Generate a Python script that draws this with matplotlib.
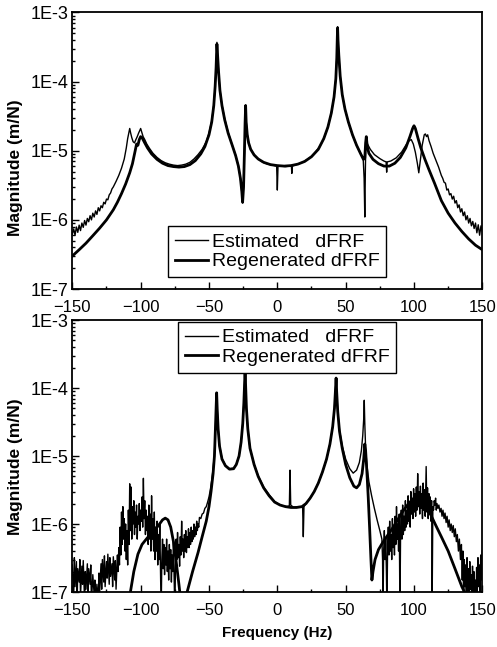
import matplotlib
matplotlib.use('Agg')
import matplotlib.pyplot as plt
from matplotlib.ticker import FixedLocator, MultipleLocator, FuncFormatter, NullFormatter, LogLocator
import numpy as np

plt.rcParams.update({
    'font.family': ['Liberation Sans', 'DejaVu Sans'],
    'font.size': 12,
})

# (frequency Hz, magnitude m/N)
# upper panel
est_top = [
    (-150, 6.2e-7), (-149, 7.4e-7), (-148, 6.0e-7), (-147, 7.9e-7), (-146, 6.6e-7),
    (-145, 8.4e-7), (-144, 7.0e-7), (-143, 9.0e-7), (-142, 7.8e-7), (-141, 9.8e-7),
    (-140, 8.4e-7), (-139, 1.05e-6), (-138, 9.4e-7), (-137, 1.15e-6), (-136, 1.0e-6),
    (-135, 1.25e-6), (-134, 1.1e-6), (-133, 1.35e-6), (-132, 1.2e-6), (-131, 1.5e-6),
    (-130, 1.35e-6), (-129, 1.6e-6), (-128, 1.5e-6), (-127, 1.8e-6), (-126, 1.7e-6),
    (-125, 2.0e-6), (-124, 1.95e-6), (-123, 2.3e-6), (-122, 2.45e-6), (-121, 2.8e-6),
    (-120, 3.0e-6), (-118, 3.6e-6), (-116, 4.4e-6), (-114, 5.6e-6), (-112, 7.6e-6),
    (-110.5, 1.1e-5), (-109.5, 1.5e-5), (-108.5, 1.9e-5), (-108, 2.1e-5), (-107.3, 1.8e-5),
    (-106.5, 1.55e-5), (-105.5, 1.35e-5), (-104.5, 1.3e-5), (-103.5, 1.45e-5), (-102.5, 1.6e-5),
    (-101.5, 1.8e-5), (-100.5, 2.0e-5), (-100, 2.1e-5), (-99.2, 1.85e-5), (-98.2, 1.6e-5),
    (-97, 1.45e-5), (-95.5, 1.25e-5), (-93.5, 1.08e-5), (-91, 9.2e-6), (-88, 8.0e-6),
    (-85, 7.2e-6), (-82, 6.7e-6), (-79, 6.4e-6), (-76, 6.2e-6), (-73, 6.1e-6),
    (-70, 6.2e-6), (-67, 6.4e-6), (-64, 6.8e-6), (-61, 7.6e-6), (-58, 8.8e-6),
    (-55, 1.05e-5), (-52, 1.35e-5), (-50, 1.8e-5), (-48, 2.7e-5), (-46.5, 4.6e-5),
    (-45.5, 8.5e-5), (-44.8, 1.6e-4), (-44.2, 3.7e-4), (-43.7, 2.4e-4), (-43, 1.4e-4),
    (-42, 7.6e-5), (-40.5, 4.6e-5), (-38.5, 2.9e-5), (-36, 1.85e-5), (-33, 1.2e-5),
    (-30.5, 8.6e-6), (-28.5, 6e-6), (-27, 4e-6), (-26, 2.5e-6), (-25.4, 1.75e-6),
    (-24.7, 3e-6), (-24.1, 9e-6), (-23.6, 2.4e-5), (-23.2, 4.6e-5), (-22.8, 2.7e-5),
    (-22, 1.75e-5), (-21, 1.3e-5), (-19.5, 1.05e-5), (-17, 8.8e-6), (-14, 7.6e-6),
    (-11, 6.9e-6), (-8, 6.5e-6), (-5, 6.3e-6), (-2, 6.1e-6), (-0.5, 6.0e-6),
    (0, 2.7e-6), (0.5, 6.0e-6), (3, 6.0e-6), (6, 5.9e-6), (9, 6.0e-6),
    (10.3, 6.0e-6), (10.6, 4.7e-6), (10.9, 6.0e-6), (13, 6.2e-6), (16, 6.5e-6),
    (19, 6.9e-6), (22, 7.5e-6), (25, 8.3e-6), (28, 9.6e-6), (31, 1.15e-5),
    (34, 1.5e-5), (37, 2.2e-5), (39.5, 3.5e-5), (41.5, 6e-5), (42.8, 1.1e-4),
    (43.5, 2.2e-4), (43.9, 4.5e-4), (44.1, 6.2e-4), (44.4, 4.0e-4), (45, 2.4e-4),
    (46, 1.2e-4), (47.5, 6.5e-5), (49.5, 4e-5), (52, 2.6e-5), (55, 1.7e-5),
    (58, 1.2e-5), (61, 9.2e-6), (62.8, 7.8e-6), (63.5, 4e-6), (64, 1.1e-6),
    (64.4, 5e-6), (64.8, 1.5e-5), (65.3, 1.4e-5), (66, 1.25e-5), (68, 1.05e-5),
    (71, 8.8e-6), (75, 7.7e-6), (78, 7.1e-6), (79.6, 6.9e-6), (80, 4.9e-6),
    (80.4, 6.9e-6), (83, 7.1e-6), (87, 7.9e-6), (91, 9.6e-6), (94, 1.2e-5),
    (96.5, 1.4e-5), (98, 1.45e-5), (99.5, 1.25e-5), (101, 9.5e-6), (102.5, 6.5e-6),
    (103.5, 4.8e-6), (104.5, 7e-6), (106, 1.2e-5), (107.5, 1.7e-5), (108.3, 1.75e-5),
    (109.2, 1.6e-5), (110, 1.7e-5), (111, 1.4e-5), (112.5, 1.15e-5), (114, 9.2e-6),
    (116, 7.3e-6), (118, 5.8e-6), (120, 4.4e-6), (121, 4.0e-6), (122, 3.5e-6),
    (123, 3.4e-6), (124, 2.7e-6), (125, 2.8e-6), (126, 2.3e-6), (127, 2.4e-6),
    (128, 2.0e-6), (129, 2.2e-6), (130, 1.75e-6), (131, 1.9e-6), (132, 1.5e-6),
    (133, 1.65e-6), (134, 1.3e-6), (135, 1.45e-6), (136, 1.15e-6), (137, 1.3e-6),
    (138, 1.0e-6), (139, 1.15e-6), (140, 9.0e-7), (141, 1.05e-6), (142, 8.2e-7),
    (143, 9.5e-7), (144, 7.5e-7), (145, 9.0e-7), (146, 6.5e-7), (147, 8.5e-7),
    (148, 6.0e-7), (149, 8.2e-7), (150, 6.8e-7),
]

regen_top = [
    (-150, 3.0e-7), (-145, 3.7e-7), (-140, 4.6e-7), (-135, 5.9e-7), (-130, 7.6e-7),
    (-125, 1.0e-6), (-120, 1.4e-6), (-117, 1.8e-6), (-114, 2.4e-6), (-111, 3.3e-6),
    (-108, 4.8e-6), (-106, 6.5e-6), (-104, 1.0e-5), (-103, 1.25e-5), (-102, 1.2e-5),
    (-101, 1.45e-5), (-100, 1.6e-5), (-99, 1.55e-5), (-97, 1.3e-5), (-95, 1.1e-5),
    (-92, 9.0e-6), (-88, 7.5e-6), (-84, 6.6e-6), (-80, 6.1e-6), (-76, 5.9e-6),
    (-72, 5.8e-6), (-68, 5.9e-6), (-64, 6.3e-6), (-60, 7.2e-6), (-56, 9.0e-6),
    (-53, 1.15e-5), (-50, 1.7e-5), (-48, 2.6e-5), (-46.5, 4.5e-5), (-45.5, 8.5e-5),
    (-44.8, 1.6e-4), (-44.2, 3.5e-4), (-43.7, 2.4e-4), (-43, 1.4e-4), (-42, 7.5e-5),
    (-40.5, 4.5e-5), (-38.5, 2.8e-5), (-36, 1.8e-5), (-33, 1.2e-5), (-30.5, 8.5e-6),
    (-28.5, 6e-6), (-27, 4e-6), (-26, 2.6e-6), (-25.4, 1.8e-6), (-24.7, 3e-6),
    (-24.1, 9e-6), (-23.6, 2.5e-5), (-23.2, 4.5e-5), (-22.8, 2.6e-5), (-22, 1.7e-5),
    (-21, 1.3e-5), (-19.5, 1.05e-5), (-17, 8.7e-6), (-14, 7.6e-6), (-10, 6.8e-6),
    (-5, 6.3e-6), (0, 6.1e-6), (5, 6.0e-6), (10, 6.1e-6), (15, 6.4e-6),
    (20, 7.0e-6), (25, 8.2e-6), (30, 1.05e-5), (34, 1.5e-5), (37, 2.2e-5),
    (39.5, 3.5e-5), (41.5, 6e-5), (42.8, 1.1e-4), (43.5, 2.2e-4), (43.9, 4.5e-4),
    (44.1, 6.0e-4), (44.4, 4.0e-4), (45, 2.4e-4), (46, 1.2e-4), (47.5, 6.5e-5),
    (49.5, 4e-5), (52, 2.6e-5), (55, 1.7e-5), (58, 1.2e-5), (61, 9e-6),
    (63, 7.5e-6), (64, 7.8e-6), (64.6, 1.3e-5), (65.1, 1.6e-5), (65.8, 1.15e-5),
    (67, 9.2e-6), (70, 7.5e-6), (74, 6.5e-6), (78, 6.0e-6), (82, 6.0e-6),
    (86, 6.6e-6), (90, 8.0e-6), (94, 1.1e-5), (97, 1.6e-5), (99, 2.1e-5),
    (100, 2.3e-5), (101, 2.1e-5), (103, 1.5e-5), (105, 1.1e-5), (108, 7.5e-6),
    (111, 5.3e-6), (115, 3.4e-6), (120, 1.9e-6), (125, 1.25e-6), (130, 9.0e-7),
    (135, 6.8e-7), (140, 5.3e-7), (145, 4.3e-7), (150, 3.7e-7),
]

# lower panel
est_bot = [
    (-150, 2.5e-7), (-149, 8e-8), (-148.5, 3.2e-7), (-148, 1.2e-7), (-147, 2.8e-7),
    (-146.5, 7e-8), (-146, 2.2e-7), (-145, 1.4e-7), (-144.5, 3.0e-7), (-144, 9e-8),
    (-143, 2.4e-7), (-142.5, 1.3e-7), (-142, 2.9e-7), (-141, 7e-8), (-140.5, 2.0e-7),
    (-140, 1.1e-7), (-139, 2.6e-7), (-138.5, 8e-8), (-138, 2.2e-7), (-137, 1.3e-7),
    (-136.5, 2.5e-7), (-136, 7e-8), (-135, 1.8e-7), (-134, 9e-8), (-133.5, 1.5e-7),
    (-133, 6e-8), (-132, 1.3e-7), (-131, 7e-8), (-130.5, 1.9e-7), (-130, 1.0e-7),
    (-129, 2.6e-7), (-128.5, 1.1e-7), (-128, 3.0e-7), (-127, 1.4e-7), (-126.5, 3.4e-7),
    (-126, 1.2e-7), (-125, 2.8e-7), (-124.5, 1.6e-7), (-124, 3.6e-7), (-123, 1.3e-7),
    (-122.5, 3.2e-7), (-122, 1.7e-7), (-121, 2.6e-7), (-120.5, 1.2e-7), (-120, 3.3e-7),
    (-119, 1.5e-7), (-118.5, 2.9e-7), (-118, 1.1e-7), (-117, 3.5e-7), (-116.5, 2.0e-7),
    (-116, 4.5e-7), (-115.5, 2.5e-7), (-115, 9e-7), (-114.5, 3.5e-7), (-114, 1.5e-6),
    (-113.5, 5e-7), (-113, 1.8e-6), (-112.5, 6e-7), (-112, 1.2e-6), (-111.5, 4e-7),
    (-111, 1.0e-6), (-110.5, 3e-7), (-110, 8e-7), (-109.5, 2.5e-7), (-109, 1.6e-6),
    (-108.5, 5e-7), (-108, 3.9e-6), (-107.5, 8e-7), (-107, 3.5e-6), (-106.5, 6e-7),
    (-106, 1.8e-6), (-105.5, 1.0e-6), (-105, 2.2e-6), (-104.5, 7e-7), (-104, 1.5e-6),
    (-103.5, 9e-7), (-103, 1.9e-6), (-102.5, 6e-7), (-102, 1.3e-6), (-101.5, 1.0e-6),
    (-101, 2.0e-6), (-100.5, 8e-7), (-100, 1.6e-6), (-99.5, 1.1e-6), (-99, 2.5e-6),
    (-98.5, 9e-7), (-98, 4.7e-6), (-97.5, 1.2e-6), (-97, 2.2e-6), (-96.5, 7e-7),
    (-96, 1.6e-6), (-95.5, 8e-7), (-95, 1.3e-6), (-94.5, 5e-7), (-94, 1.9e-6),
    (-93.5, 6e-7), (-93, 1.4e-6), (-92.5, 4e-7), (-92, 2.6e-6), (-91.5, 6e-7),
    (-91, 1.2e-6), (-90.5, 4e-7), (-90, 1.5e-6), (-89.5, 3e-7), (-89, 9e-7),
    (-88.5, 4e-7), (-88, 1.1e-6), (-87.5, 2.5e-7), (-87, 7e-7), (-86.5, 3e-7),
    (-86, 1.0e-6), (-85.5, 2e-7), (-85, 5e-8), (-84.5, 3e-7), (-84, 6e-7),
    (-83.5, 2.2e-7), (-83, 5e-7), (-82.5, 1.8e-7), (-82, 4.5e-7), (-81.5, 2.5e-7),
    (-81, 6e-7), (-80.5, 2e-7), (-80, 4e-7), (-79.5, 1.5e-7), (-79, 5e-7),
    (-78.5, 2.2e-7), (-78, 4.2e-7), (-77.5, 1.4e-7), (-77, 3.5e-7), (-76.5, 2e-7),
    (-76, 5.5e-7), (-75.5, 1.6e-7), (-75, 5e-8), (-74.5, 2.5e-7), (-74, 6e-7),
    (-73.5, 3e-7), (-73, 7.5e-7), (-72.5, 3.2e-7), (-72, 5e-7), (-71.5, 2.4e-7),
    (-71, 6.5e-7), (-70.5, 3.5e-7), (-70, 1.1e-6), (-69.5, 4e-7), (-69, 6e-7),
    (-68.5, 3.2e-7), (-68, 7e-7), (-67.5, 4e-7), (-67, 8e-7), (-66.5, 3.8e-7),
    (-66, 6.5e-7), (-65.5, 4.5e-7), (-65, 8.5e-7), (-64.5, 4.5e-7), (-64, 7.5e-7),
    (-63.5, 5e-7), (-63, 9e-7), (-62.5, 5.5e-7), (-62, 8e-7), (-61.5, 6e-7),
    (-61, 1.0e-6), (-60.5, 6.5e-7), (-60, 9e-7), (-59.5, 7e-7), (-59, 1.1e-6),
    (-58.5, 8e-7), (-58, 1.0e-6), (-57.5, 9e-7), (-57, 1.25e-6), (-56, 1.2e-6),
    (-55, 1.4e-6), (-54, 1.45e-6), (-53, 1.7e-6), (-52, 1.8e-6), (-51, 2.1e-6),
    (-50, 2.5e-6), (-49, 3.2e-6), (-48, 4.4e-6), (-47, 6.5e-6), (-46, 1.1e-5),
    (-45.3, 2.5e-5), (-44.8, 5e-5), (-44.4, 8.5e-5), (-44, 5e-5), (-43.3, 2.5e-5),
    (-42.3, 1.45e-5), (-40.5, 9.2e-6), (-38, 7.3e-6), (-35, 6.5e-6), (-32, 6.6e-6),
    (-30, 7.6e-6), (-28, 1.0e-5), (-26.5, 1.6e-5), (-25.3, 3e-5), (-24.5, 6e-5),
    (-24, 1.1e-4), (-23.6, 1.8e-4), (-23.2, 1.1e-4), (-22.6, 5e-5), (-21.6, 2.5e-5),
    (-20, 1.3e-5), (-17, 7.6e-6), (-14, 5.1e-6), (-10, 3.5e-6), (-6, 2.7e-6),
    (-2, 2.15e-6), (1, 1.95e-6), (4, 1.85e-6), (7, 1.8e-6), (8.8, 1.85e-6),
    (9.3, 6.2e-6), (9.8, 1.9e-6), (12, 1.75e-6), (15, 1.8e-6), (18.5, 1.8e-6),
    (19, 6.5e-7), (19.5, 1.8e-6), (21, 2.0e-6), (24, 2.4e-6), (27, 3.0e-6),
    (30, 4.0e-6), (33, 5.8e-6), (36, 9e-6), (38.5, 1.5e-5), (40.5, 2.7e-5),
    (41.8, 5e-5), (42.5, 9e-5), (43, 1.4e-4), (43.4, 9e-5), (44.2, 4.6e-5),
    (45.5, 2.4e-5), (47.5, 1.4e-5), (50, 9e-6), (53, 6.5e-6), (55.5, 5.6e-6),
    (58, 6.2e-6), (60, 8e-6), (61.5, 1.2e-5), (62.5, 2e-5), (63.2, 3.5e-5),
    (63.6, 6.6e-5), (64, 3e-5), (64.6, 1.3e-5), (65.5, 7.5e-6), (67, 4.2e-6),
    (69, 2.6e-6), (71, 1.7e-6), (73, 1.15e-6), (75, 8e-7), (76.5, 6e-7),
    (77, 3e-7), (77.3, 5e-8), (77.8, 4e-7), (78.3, 8e-7), (78.8, 3e-7),
    (79.3, 6e-7), (79.8, 2e-7), (80.2, 5e-8), (80.7, 5e-7), (81.2, 9e-7),
    (81.7, 3.5e-7), (82.2, 1.1e-6), (82.7, 4e-7), (83.2, 7e-7), (83.7, 3e-7),
    (84.2, 1.2e-6), (84.7, 4.5e-7), (85.2, 9e-7), (85.7, 3.5e-7), (86.2, 1.3e-6),
    (86.7, 5e-7), (87.2, 1.8e-6), (87.7, 6e-7), (88.2, 1.0e-6), (88.7, 4e-7),
    (89.2, 1.4e-6), (89.7, 5e-8), (90.2, 8e-7), (90.7, 1.6e-6), (91.2, 6e-7),
    (91.7, 1.9e-6), (92.2, 7e-7), (92.7, 1.3e-6), (93.2, 8e-7), (93.7, 2.2e-6),
    (94.2, 9e-7), (94.7, 1.6e-6), (95.2, 1.0e-6), (95.7, 2.6e-6), (96.2, 1.1e-6),
    (96.7, 2.0e-6), (97.2, 9e-7), (97.7, 3.0e-6), (98.2, 1.4e-6), (98.7, 2.4e-6),
    (99.2, 1.2e-6), (99.7, 3.3e-6), (100.2, 1.5e-6), (100.7, 2.8e-6), (101.2, 1.3e-6),
    (101.7, 3.5e-6), (102.2, 1.6e-6), (102.7, 5.5e-6), (103.2, 1.8e-6), (103.7, 3.0e-6),
    (104.2, 1.4e-6), (104.7, 3.6e-6), (105.2, 1.7e-6), (105.7, 2.8e-6), (106.2, 1.2e-6),
    (106.7, 4.0e-6), (107.2, 1.6e-6), (107.7, 3.2e-6), (108.2, 1.3e-6), (108.9, 7e-6),
    (109.4, 1.5e-6), (109.9, 3.4e-6), (110.4, 1.2e-6), (110.9, 2.8e-6), (111.4, 1.4e-6),
    (111.9, 2.5e-6), (112.4, 1.1e-6), (112.9, 2.2e-6), (113.3, 8e-8), (113.8, 1.8e-6),
    (114.3, 1.6e-6), (114.8, 2.2e-6), (115.3, 1.9e-6), (115.8, 2.4e-6), (116.3, 1.6e-6),
    (116.8, 2.0e-6), (117.5, 1.7e-6), (118.2, 1.9e-6), (119, 1.5e-6), (119.8, 1.7e-6),
    (120.5, 1.3e-6), (121.2, 1.6e-6), (122, 1.2e-6), (122.7, 1.45e-6), (123.5, 1.05e-6),
    (124.2, 1.3e-6), (125, 9e-7), (125.7, 1.15e-6), (126.5, 8e-7), (127.2, 1.0e-6),
    (128, 7.5e-7), (128.7, 9.5e-7), (129.5, 6.5e-7), (130.2, 8.5e-7), (131, 5.5e-7),
    (131.7, 7e-7), (132.5, 4e-7), (133.2, 6e-7), (134, 3e-7), (134.7, 5e-7),
    (135.3, 1.5e-7), (135.8, 4e-7), (136.3, 8e-8), (136.8, 3e-7), (137.3, 1.2e-7),
    (137.8, 2.5e-7), (138.3, 7e-8), (138.8, 3.2e-7), (139.3, 1.0e-7), (139.8, 2.2e-7),
    (140.3, 6e-8), (140.8, 2.8e-7), (141.3, 1.1e-7), (141.8, 1.8e-7), (142.3, 6e-8),
    (142.8, 2.4e-7), (143.3, 9e-8), (143.8, 2.0e-7), (144.3, 7e-8), (144.8, 1.5e-7),
    (145.3, 6e-8), (145.8, 2.3e-7), (146.3, 1e-7), (146.8, 3.2e-7), (147.3, 1.2e-7),
    (147.8, 2.5e-7), (148.3, 8e-8), (148.8, 3.5e-7), (149.3, 1.5e-7), (150, 4e-7),
]

regen_bot = [
    (-110, 5e-8), (-107.5, 1.0e-7), (-105, 2.0e-7), (-102, 3.6e-7), (-99, 5e-7),
    (-95, 6.3e-7), (-91, 7.6e-7), (-87, 9.5e-7), (-84, 1.15e-6), (-82, 1.22e-6),
    (-80, 1.15e-6), (-78, 9e-7), (-76, 5.5e-7), (-74, 2.8e-7), (-72, 1.3e-7),
    (-70.5, 7e-8), (-69, 4e-8), (-67.5, 7e-8), (-66, 1.0e-7), (-62, 2.0e-7),
    (-58, 3.8e-7), (-55, 6.5e-7), (-52, 1.1e-6), (-50, 1.8e-6), (-48.5, 3e-6),
    (-47, 5.5e-6), (-46, 1e-5), (-45.3, 2.5e-5), (-44.8, 5e-5), (-44.4, 8.5e-5),
    (-44, 5e-5), (-43.3, 2.5e-5), (-42.3, 1.4e-5), (-40.5, 9e-6), (-38, 7.2e-6),
    (-35, 6.4e-6), (-32, 6.5e-6), (-30, 7.5e-6), (-28, 1e-5), (-26.5, 1.6e-5),
    (-25.3, 3e-5), (-24.5, 6e-5), (-24, 1.1e-4), (-23.6, 1.8e-4), (-23.2, 1.1e-4),
    (-22.6, 5e-5), (-21.6, 2.5e-5), (-20, 1.3e-5), (-17, 7.5e-6), (-14, 5e-6),
    (-10, 3.4e-6), (-6, 2.6e-6), (-2, 2.1e-6), (2, 1.9e-6), (6, 1.8e-6),
    (10, 1.75e-6), (14, 1.75e-6), (18, 1.8e-6), (21, 2.0e-6), (24, 2.4e-6),
    (27, 3.0e-6), (30, 4.0e-6), (33, 5.8e-6), (36, 9e-6), (38.5, 1.5e-5),
    (40.5, 2.7e-5), (41.8, 5e-5), (42.5, 9e-5), (43, 1.4e-4), (43.4, 9e-5),
    (44.2, 4.5e-5), (45.5, 2.3e-5), (47.5, 1.3e-5), (50, 7.5e-6), (53, 4.8e-6),
    (56, 3.6e-6), (58, 3.4e-6), (60, 3.8e-6), (62, 5.5e-6), (63.2, 9e-6),
    (64, 1.5e-5), (64.6, 1.2e-5), (65.5, 6e-6), (66.5, 2.5e-6), (67.5, 9e-7),
    (68.5, 3e-7), (69.2, 1.5e-7), (70, 2e-7), (71.5, 3e-7), (74, 4.2e-7),
    (77, 5.3e-7), (80, 6.5e-7), (84, 8.5e-7), (88, 1.15e-6), (92, 1.55e-6),
    (96, 2.0e-6), (99, 2.3e-6), (102, 2.35e-6), (105, 2.2e-6), (108, 1.9e-6),
    (112, 1.4e-6), (116, 9.5e-7), (120, 6.5e-7), (125, 4e-7), (130, 2.2e-7),
    (135, 1.2e-7), (138, 9e-8), (142, 6e-8), (150, 4e-8),
]

LABEL_EST = 'Estimated   dFRF'
LABEL_REGEN = 'Regenerated dFRF'
YTICKS = [1e-7, 1e-6, 1e-5, 1e-4, 1e-3]
XTICKS = [-150, -100, -50, 0, 50, 100, 150]


def style_axis(ax):
    ax.set_yscale('log')
    ax.set_xlim(-150, 150)
    ax.set_ylim(1e-7, 1e-3)
    ax.xaxis.set_major_locator(FixedLocator(XTICKS))
    ax.xaxis.set_minor_locator(MultipleLocator(25))
    ax.yaxis.set_major_locator(FixedLocator(YTICKS))
    ax.yaxis.set_minor_locator(LogLocator(base=10, subs=np.arange(2, 10)))
    ax.yaxis.set_minor_formatter(NullFormatter())
    ax.yaxis.set_major_formatter(FuncFormatter(lambda v, _: f"1E{int(round(np.log10(v)))}"))
    ax.tick_params(which='both', direction='in', top=False, right=False, width=1)
    ax.tick_params(which='major', length=5)
    ax.tick_params(which='minor', length=2.5)
    ax.tick_params(axis='x', labelsize=12, pad=8)
    ax.tick_params(axis='y', labelsize=13, pad=3)
    for sp in ax.spines.values():
        sp.set_linewidth(1.3)
    ax.set_ylabel('Magnitude (m/N)', fontsize=12.5, fontweight='bold')


fig = plt.figure(figsize=(4.97, 6.47), dpi=100)
ax1 = fig.add_axes([0.1455, 0.5533, 0.825, 0.4274])
ax2 = fig.add_axes([0.1455, 0.0850, 0.825, 0.4204])

for ax, est, regen in [(ax1, est_top, regen_top), (ax2, est_bot, regen_bot)]:
    ef, ev = zip(*est)
    rf, rv = zip(*regen)
    ax.plot(ef, ev, color='black', lw=1.0, label=LABEL_EST)
    ax.plot(rf, rv, color='black', lw=2.0, label=LABEL_REGEN)
    style_axis(ax)

ax1.yaxis.set_label_coords(-0.12, 0.44)
ax2.yaxis.set_label_coords(-0.12, 0.46)
ax2.set_xlabel('Frequency (Hz)', fontsize=11, fontweight='bold')
ax2.xaxis.set_label_coords(0.5, -0.125)

leg_kw = dict(fontsize=14, frameon=True, fancybox=False, framealpha=1,
              edgecolor='black', handlelength=1.7, handletextpad=0.2,
              borderpad=0.35, labelspacing=0.1, borderaxespad=0)
leg1 = ax1.legend(loc='lower left', bbox_to_anchor=(0.233, 0.043), **leg_kw)
leg2 = ax2.legend(loc='upper left', bbox_to_anchor=(0.258, 0.993), **leg_kw)
for leg in (leg1, leg2):
    leg.get_frame().set_linewidth(1.0)
    leg.set_zorder(5)

fig.savefig('out.png', dpi=100, facecolor='white')
